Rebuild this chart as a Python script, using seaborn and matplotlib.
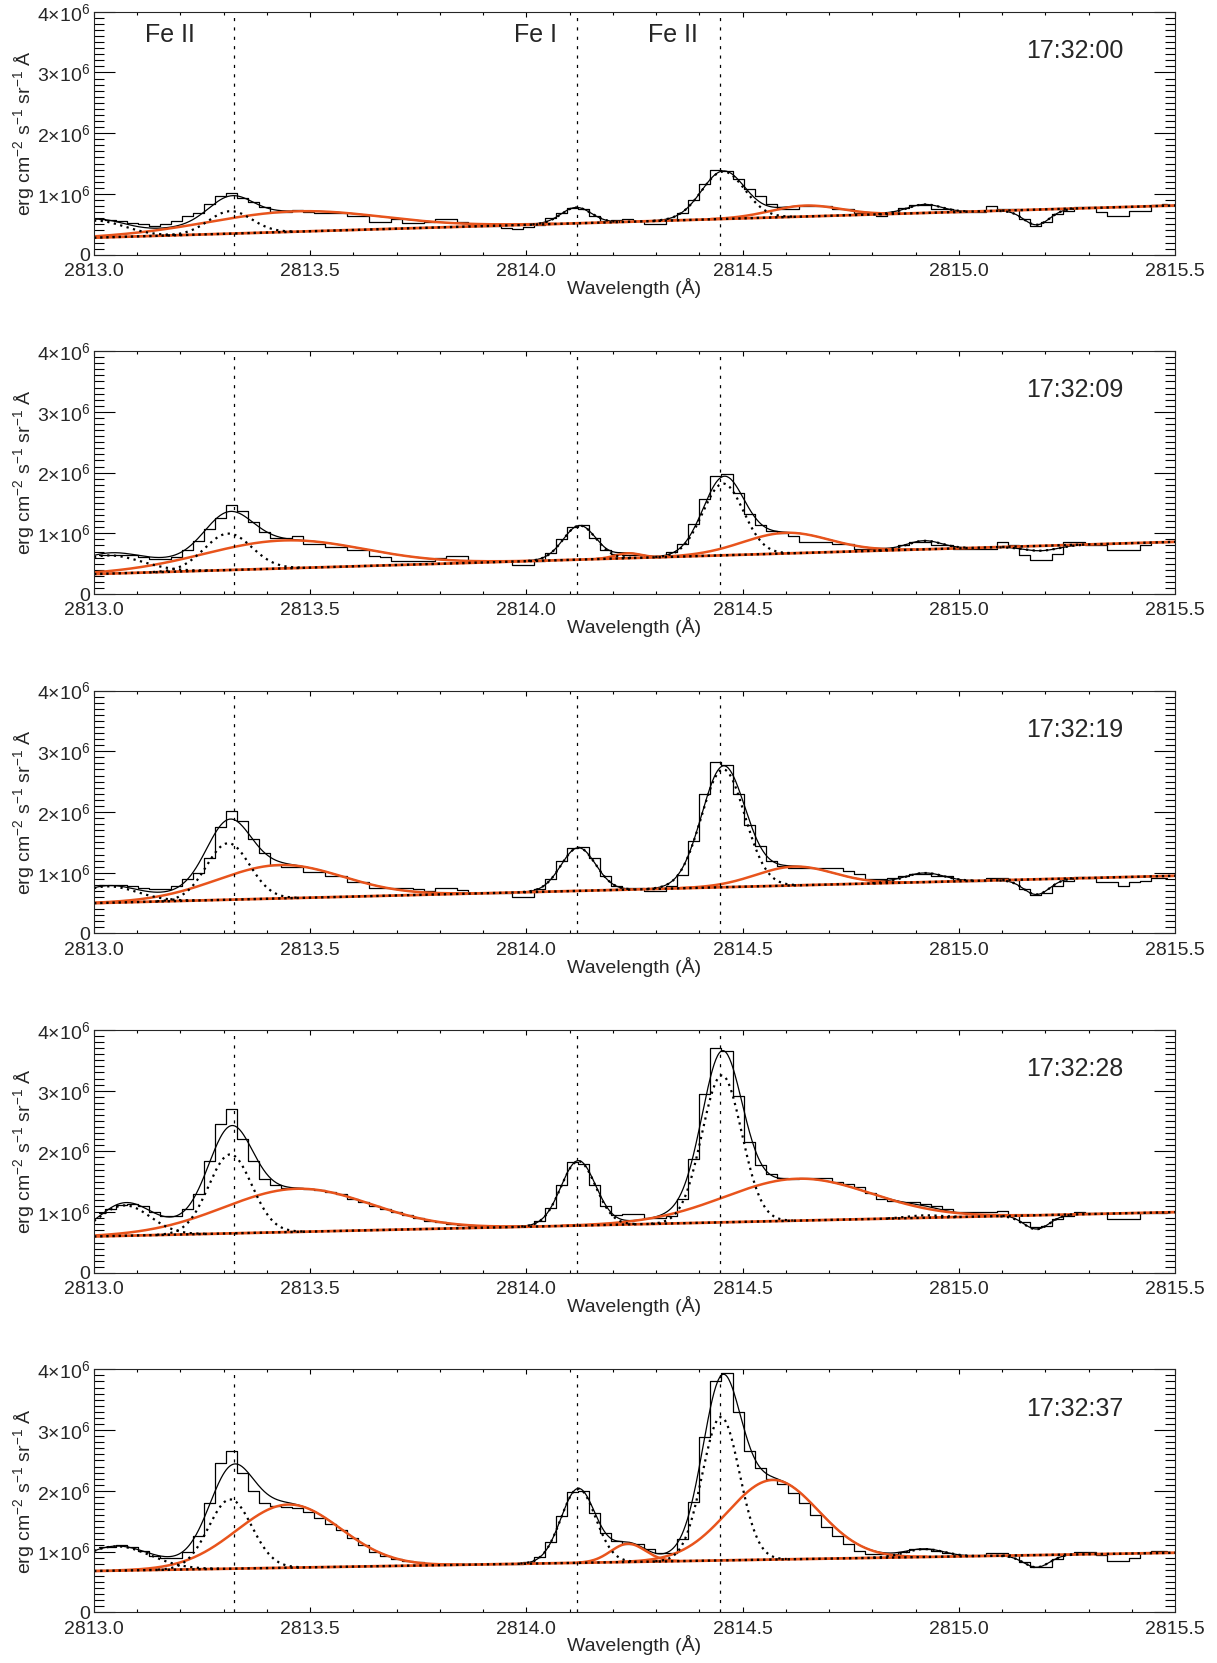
import numpy as np
import matplotlib
matplotlib.use("Agg")
import matplotlib.pyplot as plt
import seaborn as sns
from matplotlib.ticker import MultipleLocator

# time stamps of the five spectra
times = ['17:32:00', '17:32:09', '17:32:19', '17:32:28', '17:32:37']

# rest wavelengths of the lines (dotted verticals) and their labels
line_pos = [2813.324, 2814.117, 2814.447]
line_names = ['Fe II', 'Fe I', 'Fe II']
line_text_x = [2813.176, 2814.02, 2814.34]

# observed spectra, 1e6 erg cm-2 s-1 sr-1 A, one value per spectral pixel
hist_1 = [0.59, 0.57, 0.55, 0.53, 0.50, 0.48, 0.50, 0.55, 0.64, 0.69,
          0.83, 0.97, 1.02, 0.94, 0.86, 0.78, 0.71, 0.71, 0.73, 0.71,
          0.69, 0.69, 0.69, 0.64, 0.64, 0.54, 0.54, 0.58, 0.53, 0.53,
          0.54, 0.58, 0.58, 0.54, 0.47, 0.47, 0.47, 0.44, 0.43, 0.46,
          0.49, 0.61, 0.69, 0.77, 0.75, 0.64, 0.56, 0.57, 0.58, 0.56,
          0.51, 0.51, 0.58, 0.69, 0.90, 1.17, 1.39, 1.38, 1.25, 1.08,
          0.97, 0.84, 0.75, 0.75, 0.80, 0.80, 0.80, 0.75, 0.75, 0.69,
          0.69, 0.63, 0.69, 0.77, 0.82, 0.82, 0.75, 0.75, 0.71, 0.71,
          0.71, 0.80, 0.75, 0.75, 0.58, 0.47, 0.54, 0.67, 0.72, 0.79,
          0.79, 0.71, 0.64, 0.64, 0.72, 0.72, 0.82, 0.83]
hist_2 = [0.65, 0.65, 0.65, 0.64, 0.61, 0.57, 0.57, 0.61, 0.72, 0.88,
          1.07, 1.26, 1.46, 1.37, 1.18, 1.02, 0.92, 0.92, 0.95, 0.83,
          0.83, 0.78, 0.78, 0.73, 0.73, 0.63, 0.61, 0.55, 0.55, 0.55,
          0.55, 0.59, 0.62, 0.62, 0.55, 0.55, 0.55, 0.55, 0.48, 0.48,
          0.55, 0.67, 0.91, 1.10, 1.13, 0.93, 0.73, 0.66, 0.65, 0.65,
          0.61, 0.61, 0.69, 0.83, 1.15, 1.56, 1.95, 1.97, 1.66, 1.32,
          1.13, 1.04, 1.00, 0.95, 0.86, 0.86, 0.86, 0.83, 0.83, 0.74,
          0.74, 0.72, 0.74, 0.80, 0.86, 0.86, 0.80, 0.80, 0.74, 0.74,
          0.74, 0.74, 0.86, 0.80, 0.65, 0.56, 0.56, 0.66, 0.85, 0.85,
          0.80, 0.80, 0.72, 0.72, 0.72, 0.80, 0.85, 0.85]
hist_3 = [0.80, 0.80, 0.80, 0.79, 0.75, 0.73, 0.73, 0.78, 0.89, 1.00,
          1.25, 1.75, 2.02, 1.85, 1.56, 1.33, 1.13, 1.09, 1.09, 1.02,
          1.02, 0.95, 0.95, 0.84, 0.84, 0.75, 0.75, 0.75, 0.75, 0.73,
          0.70, 0.75, 0.75, 0.71, 0.67, 0.67, 0.67, 0.67, 0.60, 0.60,
          0.73, 0.89, 1.19, 1.41, 1.42, 1.25, 0.95, 0.78, 0.75, 0.75,
          0.70, 0.70, 0.78, 0.97, 1.52, 2.30, 2.82, 2.78, 2.30, 1.79,
          1.44, 1.19, 1.11, 1.08, 1.08, 1.08, 1.08, 1.08, 1.03, 0.98,
          0.89, 0.89, 0.92, 0.95, 0.98, 0.98, 0.95, 0.95, 0.86, 0.86,
          0.86, 0.91, 0.91, 0.88, 0.73, 0.64, 0.67, 0.78, 0.86, 0.93,
          0.91, 0.84, 0.84, 0.78, 0.84, 0.86, 0.92, 0.92]
hist_4 = [0.98, 1.05, 1.12, 1.13, 1.10, 1.00, 0.93, 0.93, 1.05, 1.30,
          1.85, 2.45, 2.70, 2.20, 1.85, 1.55, 1.45, 1.40, 1.40, 1.38,
          1.36, 1.33, 1.30, 1.22, 1.16, 1.10, 1.05, 1.00, 0.95, 0.90,
          0.86, 0.84, 0.80, 0.79, 0.78, 0.77, 0.76, 0.76, 0.77, 0.78,
          0.86, 1.07, 1.45, 1.82, 1.80, 1.45, 1.10, 0.95, 0.97, 0.97,
          0.90, 0.90, 0.94, 1.21, 1.87, 2.95, 3.71, 3.66, 2.91, 2.15,
          1.78, 1.63, 1.57, 1.54, 1.57, 1.57, 1.57, 1.50, 1.46, 1.41,
          1.32, 1.21, 1.19, 1.16, 1.16, 1.13, 1.10, 1.05, 1.00, 1.00,
          1.00, 1.00, 1.02, 0.95, 0.83, 0.75, 0.77, 0.88, 0.94, 1.00,
          0.99, 0.99, 0.88, 0.88, 0.88, 0.99, 0.99, 0.99]
hist_5 = [1.07, 1.08, 1.10, 1.08, 1.01, 0.92, 0.90, 0.90, 1.00, 1.25,
          1.80, 2.45, 2.65, 2.30, 2.00, 1.80, 1.75, 1.74, 1.72, 1.65,
          1.55, 1.45, 1.35, 1.22, 1.10, 1.00, 0.93, 0.88, 0.85, 0.82,
          0.80, 0.79, 0.79, 0.79, 0.79, 0.79, 0.79, 0.79, 0.80, 0.82,
          0.91, 1.15, 1.59, 1.98, 2.00, 1.64, 1.30, 1.17, 1.12, 1.12,
          1.04, 0.98, 0.98, 1.20, 1.82, 2.88, 3.80, 3.94, 3.30, 2.66,
          2.38, 2.20, 2.11, 1.96, 1.80, 1.60, 1.40, 1.25, 1.12, 1.01,
          0.96, 0.96, 0.96, 0.99, 1.04, 1.04, 1.01, 0.97, 0.94, 0.94,
          0.94, 0.97, 0.98, 0.94, 0.82, 0.74, 0.74, 0.87, 0.96, 0.99,
          0.99, 0.94, 0.85, 0.85, 0.90, 0.97, 1.01, 1.01]
spectra = [hist_1, hist_2, hist_3, hist_4, hist_5]

# fitted linear background (1e6) at 2813.0 and 2815.5
bg_left = [0.28, 0.33, 0.50, 0.60, 0.68]
bg_right = [0.81, 0.86, 0.95, 1.00, 0.98]

# fitted narrow components (black dotted): (amplitude 1e6, centre, sigma)
narrow = [
    [(0.28, 2813.00, 0.07), (0.37, 2813.315, 0.05), (0.26, 2814.115, 0.035),
     (0.78, 2814.455, 0.05), (0.14, 2814.92, 0.04), (-0.25, 2815.18, 0.03)],
    [(0.30, 2813.03, 0.08), (0.60, 2813.31, 0.055), (0.56, 2814.123, 0.038),
     (1.18, 2814.455, 0.047), (0.14, 2814.92, 0.04), (-0.08, 2815.19, 0.04)],
    [(0.27, 2813.03, 0.07), (0.93, 2813.31, 0.05), (0.71, 2814.12, 0.04),
     (1.94, 2814.455, 0.05), (0.15, 2814.92, 0.045), (-0.25, 2815.18, 0.03)],
    [(0.50, 2813.07, 0.06), (1.30, 2813.315, 0.05), (1.06, 2814.12, 0.04),
     (2.42, 2814.452, 0.046), (0.04, 2814.92, 0.04), (-0.23, 2815.18, 0.03)],
    [(0.40, 2813.05, 0.08), (1.14, 2813.315, 0.05), (1.22, 2814.12, 0.04),
     (2.36, 2814.45, 0.043), (0.13, 2814.92, 0.045), (-0.20, 2815.18, 0.03)],
]

# fitted broad components (orange)
broad = [
    [(0.335, 2813.467, 0.20), (0.18, 2814.645, 0.08)],
    [(0.46, 2813.44, 0.185), (0.08, 2814.235, 0.03), (0.34, 2814.60, 0.10)],
    [(0.55, 2813.43, 0.145), (0.31, 2814.62, 0.09)],
    [(0.71, 2813.47, 0.17), (0.69, 2814.628, 0.17)],
    [(1.04, 2813.45, 0.12), (0.30, 2814.235, 0.04), (1.31, 2814.57, 0.105)],
]

ORANGE = '#E8541C'
W, H = 1217, 1663
left_px, right_px = 94, 1175
tops_px = [11.7, 351.1, 690.5, 1029.9, 1369.3]
h_px = 243

# spectral pixel grid (IRIS NUV, 25.46 mA per pixel)
wave = 2813.0127 + 0.02546 * np.arange(98)
xf = np.linspace(2813.0, 2815.5, 1251)


def gauss(x, a, c, s):
    return a * np.exp(-0.5 * ((x - c) / s) ** 2)


def bg(x, i):
    return bg_left[i] + (bg_right[i] - bg_left[i]) * (x - 2813.0) / 2.5


def fit(x, i):
    y = bg(x, i)
    for p in narrow[i] + broad[i]:
        y = y + gauss(x, *p)
    return y


def component(i, p):
    # a component sitting on the background, only where it lifts off it
    g = gauss(xf, *p)
    y = (bg(xf, i) + g) * 1e6
    return np.where(np.abs(g) > 0.004, y, np.nan)


sns.set_style('ticks')
plt.rcParams['font.family'] = ['Liberation Sans', 'DejaVu Sans']
plt.rcParams['mathtext.fontset'] = 'custom'
plt.rcParams['mathtext.rm'] = 'Liberation Sans'
plt.rcParams['mathtext.it'] = 'Liberation Sans:italic'
plt.rcParams['axes.linewidth'] = 0.8

fig = plt.figure(figsize=(W / 100, H / 100), dpi=100)

for i in range(5):
    ax = fig.add_axes([left_px / W, 1 - (tops_px[i] + h_px) / H,
                       (right_px - left_px) / W, h_px / H])
    sns.lineplot(x=wave, y=np.array(spectra[i]) * 1e6, ax=ax, color='black',
                 lw=0.9, drawstyle='steps-mid', estimator=None, sort=False)
    sns.lineplot(x=xf, y=fit(xf, i) * 1e6, ax=ax, color='black', lw=0.9,
                 estimator=None, sort=False)
    # background: orange with black dots on top
    ax.plot(xf, bg(xf, i) * 1e6, color=ORANGE, lw=2.0)
    for p in broad[i]:
        ax.plot(xf, component(i, p), color=ORANGE, lw=1.8)
    ax.plot(xf, bg(xf, i) * 1e6, color='black', lw=1.7, linestyle=(0, (1, 1.6)))
    for p in narrow[i]:
        ax.plot(xf, component(i, p), color='black', lw=1.6,
                linestyle=(0, (1, 2)))
    for lp in line_pos:
        ax.axvline(lp, color='black', lw=0.9, linestyle=(0, (2.5, 5)))

    ax.set_xlim(2813.0, 2815.5)
    ax.set_ylim(0, 4.0e6)
    ax.set_xticks([2813.0, 2813.5, 2814.0, 2814.5, 2815.0, 2815.5],
                  ['2813.0', '2813.5', '2814.0', '2814.5', '2815.0', '2815.5'])
    ax.xaxis.set_minor_locator(MultipleLocator(0.1))
    ax.set_yticks([0, 1e6, 2e6, 3e6, 4e6],
                  ['0'] + [r'$%d{\times}10^{6}$' % k for k in range(1, 5)])
    ax.yaxis.set_minor_locator(MultipleLocator(1e5))
    ax.tick_params(which='both', direction='in', top=True, right=True,
                   labelsize=14, width=0.8, color='black')
    ax.tick_params(axis='y', which='major', length=15, pad=3)
    ax.tick_params(axis='y', which='minor', length=7.5)
    ax.tick_params(axis='x', which='major', length=3.6, pad=6)
    ax.tick_params(axis='x', which='minor', length=2)
    ax.set_xlabel('Wavelength (Å)', fontsize=14)
    ax.xaxis.set_label_coords(0.5, -0.095)
    ax.set_ylabel(r'erg cm$^{-2}$ s$^{-1}$ sr$^{-1}$ Å', fontsize=14)
    ax.yaxis.set_label_coords(-0.053, 0.5)
    ax.text(0.907, 0.838, times[i], transform=ax.transAxes, fontsize=18,
            ha='center', va='center')
    if i == 0:
        for name, tx in zip(line_names, line_text_x):
            ax.text(tx, 0.904, name, transform=ax.get_xaxis_transform(),
                    fontsize=18, ha='center', va='center')

fig.savefig('out.png', dpi=100)
